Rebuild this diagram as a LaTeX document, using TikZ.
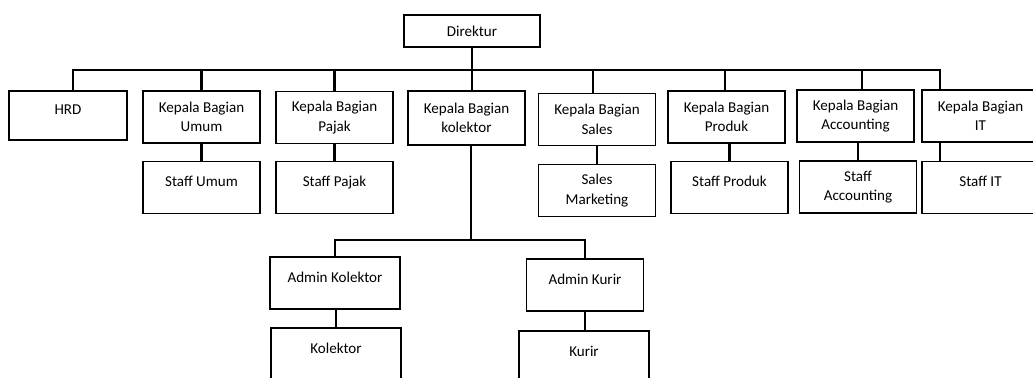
\documentclass[tikz,border=0pt]{standalone}
\usepackage{fontspec}
\setmainfont{Carlito}
\usepackage{tikz}

\begin{document}
\begin{tikzpicture}[
        x=0.75pt, y=-0.75pt,
        jabatan/.style={draw=black, rectangle, line width=1.1pt, minimum width=87.75pt, minimum height=39pt, align=center, inner sep=0pt, font=\fontsize{11.3pt}{14.6pt}\selectfont},
        satu/.style={text height=8pt, text depth=9pt},
        garis/.style={draw=black, line width=1.6pt}
    ]
        \clip (0,0) rectangle (1033,378);
        \fill[white] (0,0) rectangle (1033,378);

        % --- Direktur dan kepala bagian ---
        \node[jabatan, minimum width=102pt, minimum height=24pt] (direktur) at (472,31) {Direktur};
        \node[jabatan, satu, minimum width=88.5pt, minimum height=36.75pt] (hrd) at (68,115.5) {HRD};
        \node[jabatan] (kbumum) at (201.5,117) {Kepala Bagian\\Umum};
        \node[jabatan] (kbpajak) at (334.5,117.5) {Kepala Bagian\\Pajak};
        \node[jabatan, minimum height=40.5pt] (kbkolektor) at (466.5,118) {Kepala Bagian\\kolektor};
        \node[jabatan] (kbsales) at (597,119.5) {Kepala Bagian\\Sales};
        \node[jabatan] (kbproduk) at (726.5,117) {Kepala Bagian\\Produk};
        \node[jabatan] (kbacc) at (855.5,116) {Kepala Bagian\\Accounting};
        \node[jabatan] (kbit) at (980.5,116) {Kepala Bagian\\IT};

        % --- Staff ---
        \node[jabatan, satu] (staffumum) at (201.5,187.5) {Staff Umum};
        \node[jabatan, satu] (staffpajak) at (334.5,187.5) {Staff Pajak};
        \node[jabatan] (salesmkt) at (597,190.5) {Sales\\Marketing};
        \node[jabatan, satu] (staffproduk) at (729.5,187.5) {Staff Produk};
        \node[jabatan] (staffacc) at (858,187) {Staff\\Accounting};
        \node[jabatan, satu] (staffit) at (980.5,187.5) {Staff IT};

        % --- Bawahan kolektor ---
        \node[jabatan, satu, minimum width=97.5pt] (adminkol) at (335,283) {Admin Kolektor};
        \node[jabatan, satu, minimum width=97.5pt] (kolektor) at (336,354) {Kolektor};
        \node[jabatan, satu] (adminkurir) at (585,285) {Admin Kurir};
        \node[jabatan, satu, minimum width=97.5pt] (kurir) at (584,357) {Kurir};

        % --- Garis ---
        \coordinate (bus) at (472,70);
        \coordinate (sub) at (471,240);

        \draw[garis] (direktur.south) -- (kbkolektor.north -| direktur.south);
        \draw[garis] ([xshift=3.75pt]hrd.north) |- (bus);
        \draw[garis] ([xshift=-30.4pt]kbit.north) |- (bus);
        \draw[garis] (kbumum.north) -- (kbumum.north |- bus);
        \draw[garis] (kbpajak.north) -- (kbpajak.north |- bus);
        \draw[garis] ([xshift=-3pt]kbsales.north) |- (bus);
        \draw[garis] ([xshift=-1pt]kbproduk.north) |- (bus);
        \draw[garis] ([xshift=4.9pt]kbacc.north) |- (bus);

        \draw[garis] (kbumum) -- (staffumum);
        \draw[garis] (kbpajak) -- (staffpajak);
        \draw[garis] (kbsales) -- (salesmkt);
        \draw[garis] (staffproduk.north) -- (staffproduk.north |- kbproduk.south);
        \draw[garis] (staffacc.north) -- (staffacc.north |- kbacc.south);
        \draw[garis] ([xshift=-30.4pt]kbit.south) -- ([xshift=-30.4pt]staffit.north);

        \draw[garis] (sub |- kbkolektor.south) -- (sub);
        \draw[garis] (adminkol.north) |- (sub) -| (adminkurir.north);
        \draw[garis] (kolektor.north) -- (kolektor.north |- adminkol.south);
        \draw[garis] (adminkurir.south) -- (adminkurir.south |- kurir.north);

    \end{tikzpicture}
\end{document}
